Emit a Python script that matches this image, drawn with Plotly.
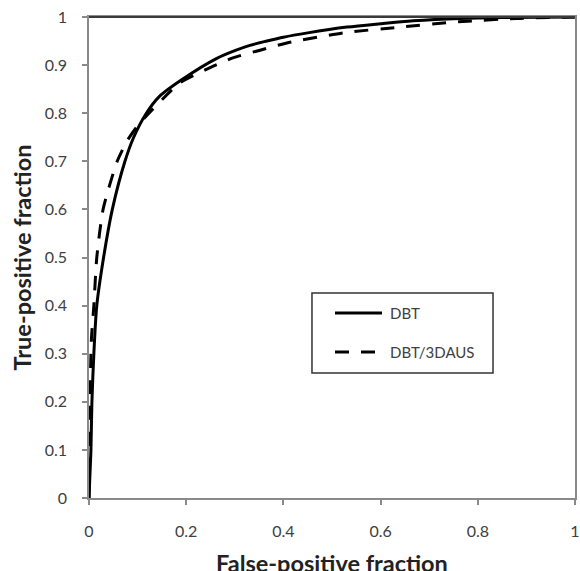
import plotly.graph_objects as go

# DBT (solid) ROC curve
dbt_fpf = [0, 0.002, 0.004, 0.006, 0.010, 0.016, 0.030, 0.048, 0.074, 0.092, 0.118, 0.145, 0.193, 0.263, 0.30, 0.331, 0.366, 0.40, 0.45, 0.531, 0.60, 0.667, 0.763, 0.85, 1.0]
dbt_tpf = [0, 0.05, 0.1, 0.2, 0.3, 0.4, 0.5, 0.6, 0.7, 0.75, 0.80, 0.835, 0.871, 0.914, 0.930, 0.941, 0.950, 0.958, 0.967, 0.979, 0.986, 0.992, 0.997, 0.999, 1.0]

# DBT/3DAUS (dashed) ROC curve
aus_fpf = [0, 0.002, 0.005, 0.010, 0.016, 0.029, 0.058, 0.080, 0.105, 0.187, 0.239, 0.296, 0.352, 0.407, 0.523, 0.64, 0.76, 0.88, 1.0]
aus_tpf = [0, 0.2, 0.33, 0.4, 0.5, 0.6, 0.7, 0.745, 0.78, 0.863, 0.89, 0.915, 0.931, 0.946, 0.967, 0.979, 0.99, 0.997, 1.0]

series_names = ["DBT", "DBT/3DAUS"]

x_ticks = [0, 0.2, 0.4, 0.6, 0.8, 1]
x_tick_labels = ["0", "0.2", "0.4", "0.6", "0.8", "1"]
y_ticks = [0, 0.1, 0.2, 0.3, 0.4, 0.5, 0.6, 0.7, 0.8, 0.9, 1]
y_tick_labels = ["0", "0.1", "0.2", "0.3", "0.4", "0.5", "0.6", "0.7", "0.8", "0.9", "1"]

FONT = "Lato"
TXT = "#404040"
AX = "#8a8a8a"
DASH = "14px,12px"

fig = go.Figure()
fig.add_trace(go.Scatter(x=dbt_fpf, y=dbt_tpf, mode="lines", name=series_names[0],
                         showlegend=False,
                         line=dict(color="black", width=3, shape="spline", smoothing=0.8)))
fig.add_trace(go.Scatter(x=aus_fpf, y=aus_tpf, mode="lines", name=series_names[1],
                         showlegend=False,
                         line=dict(color="black", width=3, dash=DASH, shape="spline", smoothing=0.6)))

fig.update_layout(
    width=580, height=571,
    margin=dict(l=89, r=5, t=17, b=73),
    plot_bgcolor="white", paper_bgcolor="white",
    font=dict(family=FONT, color=TXT, size=15),
    showlegend=False,
    xaxis=dict(range=[0, 1], tickvals=x_ticks, ticktext=x_tick_labels, automargin=False,
               showgrid=False, zeroline=False, showline=True, linecolor=AX, linewidth=1.5,
               mirror=True, ticks="outside", ticklen=5, tickcolor=AX, tickwidth=1.5,
               ticklabelstandoff=13,
               tickfont=dict(family=FONT, size=16, color=TXT)),
    yaxis=dict(range=[0, 1], tickvals=y_ticks, ticktext=y_tick_labels, automargin=False,
               showgrid=False, zeroline=False, showline=True, linecolor=AX, linewidth=1.5,
               mirror=True, ticks="outside", ticklen=5, tickcolor=AX, tickwidth=1.5,
               ticklabelstandoff=12,
               tickfont=dict(family=FONT, size=16, color=TXT),
               title=dict(text="<b>True-positive fraction</b>", standoff=6,
                          font=dict(family=FONT, size=23.5, color="#222222"))),
)
# x-axis title placed lower than plotly's margin-constrained title (partly cut, as in the reference)
fig.add_annotation(xref="paper", yref="paper", x=0.5, y=0, yanchor="top", yshift=-49,
                   text="<b>False-positive fraction</b>", showarrow=False,
                   font=dict(family=FONT, size=23.5, color="#222222"))

# darker top frame line
fig.add_shape(type="line", xref="paper", yref="paper", x0=0, x1=1, y0=1, y1=1,
              line=dict(color="#3a3a3a", width=2))

# legend box (drawn to match the reference's boxed legend)
fig.add_shape(type="rect", xref="paper", yref="paper", x0=0.4588, x1=0.8313, y0=0.2599, y1=0.4262,
              line=dict(color="#333333", width=1.5), fillcolor="white", layer="above")
legend_rows = [0.3846, 0.3035]
legend_dash = ["solid", DASH]
for name, yy, dsh, x1 in zip(series_names, legend_rows, legend_dash, [0.6029, 0.5950]):
    fig.add_shape(type="line", xref="paper", yref="paper", x0=0.5062, x1=x1, y0=yy, y1=yy,
                  line=dict(color="black", width=3, dash=dsh), layer="above")
    fig.add_annotation(xref="paper", yref="paper", x=0.6152, y=yy, text=name,
                       showarrow=False, xanchor="left", yanchor="middle",
                       font=dict(family=FONT, size=15, color=TXT))

fig.write_html("out.html", config={"displayModeBar": False},
               post_script="document.body.style.margin='0';document.body.style.overflow='hidden';")
